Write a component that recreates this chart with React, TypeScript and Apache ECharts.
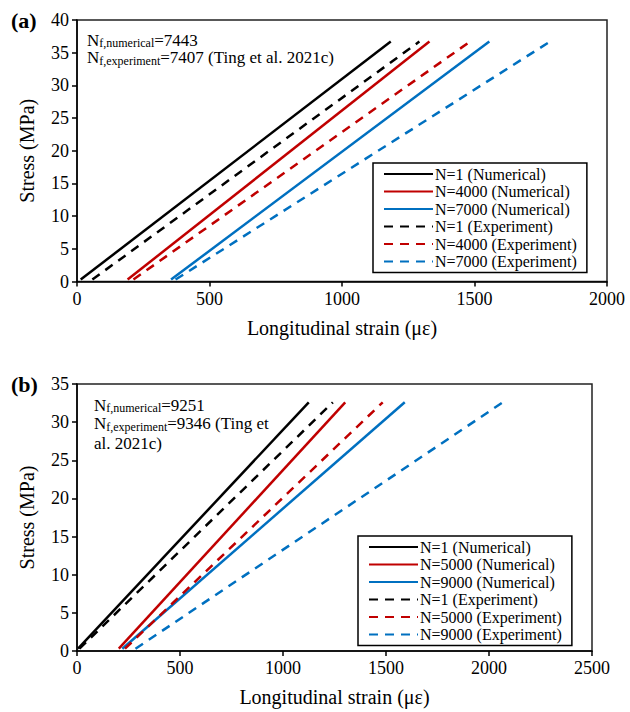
import React, { useEffect, useRef } from "react";
import * as echarts from "echarts";

// Panel (a): cyclic stress–strain response at N = 1, 4000, 7000
const namesA = [
  "N=1 (Numerical)",
  "N=4000 (Numerical)",
  "N=7000 (Numerical)",
  "N=1 (Experiment)",
  "N=4000 (Experiment)",
  "N=7000 (Experiment)",
];
const strainStartA = [14, 191, 355, 58, 213, 372];
const strainEndA = [1184, 1330, 1556, 1292, 1483, 1785];
const stressStartA = [0.3, 0.3, 0.3, 0.3, 0.3, 0.3];
const stressEndA = [36.7, 36.7, 36.7, 36.7, 36.7, 36.7];

// Panel (b): cyclic stress–strain response at N = 1, 5000, 9000
const namesB = [
  "N=1 (Numerical)",
  "N=5000 (Numerical)",
  "N=9000 (Numerical)",
  "N=1 (Experiment)",
  "N=5000 (Experiment)",
  "N=9000 (Experiment)",
];
const strainStartB = [5, 203, 220, 12, 233, 284];
const strainEndB = [1125, 1302, 1591, 1242, 1484, 2067];
const stressStartB = [0.3, 0.3, 0.3, 0.3, 0.3, 0.3];
const stressEndB = [32.6, 32.6, 32.6, 32.6, 32.6, 32.6];

const xTicksA = { min: 0, max: 2000, interval: 500 };
const yTicksA = { min: 0, max: 40, interval: 5 };
const xTicksB = { min: 0, max: 2500, interval: 500 };
const yTicksB = { min: 0, max: 35, interval: 5 };

// Fatigue-life notes: [text, "n" normal | "s" subscript] runs per line
type Run = [string, "n" | "s"];
const noteA: Run[][] = [
  [["N", "n"], ["f,numerical", "s"], ["=7443", "n"]],
  [["N", "n"], ["f,experiment", "s"], ["=7407 (Ting et al. 2021c)", "n"]],
];
const noteB: Run[][] = [
  [["N", "n"], ["f,numerical", "s"], ["=9251", "n"]],
  [["N", "n"], ["f,experiment", "s"], ["=9346 (Ting et", "n"]],
  [["al. 2021c)", "n"]],
];

const lineColors = ["#000000", "#c00000", "#0070c0", "#000000", "#c00000", "#0070c0"];
const SERIF = "Liberation Serif";
const NOTE_SIZE = 17;
const SUB_SIZE = 12;

function buildSeries(
  names: string[],
  x0: number[],
  x1: number[],
  y0: number[],
  y1: number[],
  axisIndex: number
) {
  return names.map((name, i) => ({
    name,
    type: "line",
    xAxisIndex: axisIndex,
    yAxisIndex: axisIndex,
    symbol: "none",
    color: lineColors[i],
    lineStyle: {
      color: lineColors[i],
      width: 2.5,
      type: i >= 3 ? [9, 7] : "solid",
    },
    data: [
      [x0[i], y0[i]],
      [x1[i], y1[i]],
    ],
  }));
}

function valueAxis(ticks: { min: number; max: number; interval: number }, gridIndex: number, isX: boolean) {
  return {
    type: "value",
    gridIndex,
    min: ticks.min,
    max: ticks.max,
    interval: ticks.interval,
    name: isX ? "Longitudinal strain (με)" : "Stress (MPa)",
    nameLocation: "middle",
    nameGap: isX ? 36 : 40,
    nameTextStyle: { fontFamily: SERIF, fontSize: 20, color: "#000" },
    axisLine: { show: true, onZero: false, lineStyle: { color: "#000", width: 1.5 } },
    axisTick: { show: true, inside: false, length: 5, lineStyle: { color: "#000", width: 1.5 } },
    axisLabel: {
      fontFamily: SERIF,
      fontSize: 18,
      color: "#000",
      margin: 8,
      formatter: (v: number) => String(v),
    },
    splitLine: { show: false },
  };
}

function legendFor(names: string[], left: number, top: number) {
  return {
    orient: "vertical",
    left,
    top,
    data: names,
    selectedMode: false,
    itemWidth: 49,
    itemHeight: 10,
    itemGap: 1.5,
    padding: [3, 10, 3, 10],
    borderColor: "#000",
    borderWidth: 1.5,
    backgroundColor: "#fff",
    itemStyle: { opacity: 0, borderWidth: 0 },
    textStyle: { fontFamily: SERIF, fontSize: 16, lineHeight: 16, color: "#000", padding: [0, 0, 0, -3] },
  };
}

// Lays out text runs left to right, lowering the subscript runs
function noteElements(lines: Run[][], left: number, centersY: number[]) {
  const ctx = document.createElement("canvas").getContext("2d");
  const measure = (t: string, size: number) => {
    if (!ctx) return t.length * size * 0.5;
    ctx.font = `${size}px ${SERIF}`;
    return ctx.measureText(t).width;
  };
  const out: any[] = [];
  lines.forEach((runs, li) => {
    let x = left;
    const cy = centersY[li];
    runs.forEach(([text, kind]) => {
      const size = kind === "s" ? SUB_SIZE : NOTE_SIZE;
      out.push({
        type: "text",
        x,
        y: kind === "s" ? cy + 3 : cy,
        style: {
          text,
          fontFamily: SERIF,
          fontSize: size,
          fill: "#000",
          align: "left",
          verticalAlign: "middle",
        },
      });
      x += measure(text, size);
    });
  });
  return out;
}

export default function App() {
  const ref = useRef<HTMLDivElement>(null);

  useEffect(() => {
    if (!ref.current) return;
    const chart = echarts.init(ref.current, null, { renderer: "svg" });
    chart.setOption({
      animation: false,
      backgroundColor: "#fff",
      textStyle: { fontFamily: SERIF },
      grid: [
        { left: 77, top: 20, width: 530, height: 261.5, show: true, borderColor: "#222", borderWidth: 1.5, containLabel: false },
        { left: 77, top: 384, width: 515, height: 267, show: true, borderColor: "#222", borderWidth: 1.5, containLabel: false },
      ],
      xAxis: [valueAxis(xTicksA, 0, true), valueAxis(xTicksB, 1, true)],
      yAxis: [valueAxis(yTicksA, 0, false), valueAxis(yTicksB, 1, false)],
      legend: [legendFor(namesA, 373, 163), legendFor(namesB, 358, 536)],
      series: [
        ...buildSeries(namesA, strainStartA, strainEndA, stressStartA, stressEndA, 0),
        ...buildSeries(namesB, strainStartB, strainEndB, stressStartB, stressEndB, 1),
      ],
      graphic: [
        {
          type: "text",
          left: 11,
          top: 9,
          style: { text: "(a)", fontFamily: SERIF, fontSize: 22, fontWeight: "bold", fill: "#000" },
        },
        {
          type: "text",
          left: 11,
          top: 373,
          style: { text: "(b)", fontFamily: SERIF, fontSize: 22, fontWeight: "bold", fill: "#000" },
        },
        ...noteElements(noteA, 87, [40, 57.5]),
        ...noteElements(noteB, 94, [405, 423.5, 443.5]),
      ],
    });
    return () => chart.dispose();
  }, []);

  return (
    <div
      ref={ref}
      style={{ position: "fixed", left: 0, top: 0, width: 630, height: 712, background: "#fff" }}
    />
  );
}
